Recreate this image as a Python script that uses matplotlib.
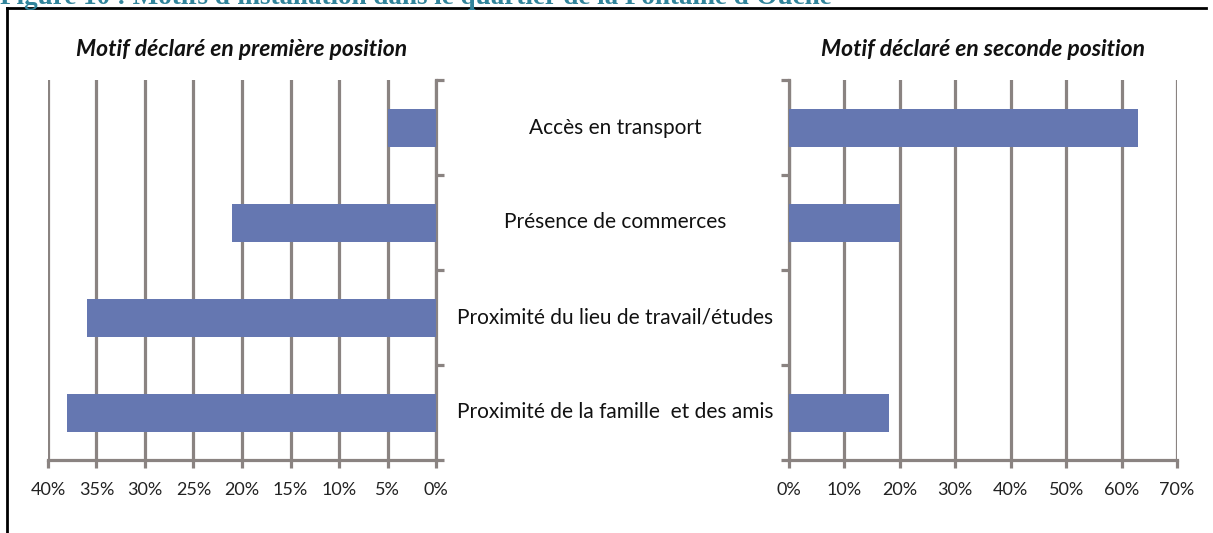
import matplotlib.pyplot as plt
from matplotlib.lines import Line2D

categories = [
    'Accès en transport',
    'Présence de commerces',
    'Proximité du lieu de travail/études',
    'Proximité de la famille  et des amis',
]
premiere = [5, 21, 36, 38]
seconde = [63, 20, 0, 18]

left_ticks = [40, 35, 30, 25, 20, 15, 10, 5, 0]
right_ticks = [0, 10, 20, 30, 40, 50, 60, 70]

bar_color = '#6577b1'
grid_color = '#8a8381'
W, H = 1213, 533

plt.rcParams['font.family'] = ['Lato', 'DejaVu Sans']


def style_axis(ax, ticks, side):
    ax.set_xticks(ticks)
    ax.set_xticklabels([f'{t}%' for t in ticks], fontsize=13, color='#222222')
    ax.set_ylim(len(categories) - 0.5, -0.5)
    ax.set_yticks([i - 0.5 for i in range(len(categories) + 1)])
    ax.set_yticklabels([])
    ax.xaxis.grid(True, color=grid_color, linewidth=2.3, zorder=0)
    ax.set_axisbelow(True)
    for s in ['top', 'left', 'right']:
        ax.spines[s].set_visible(False)
    ax.spines['bottom'].set_color(grid_color)
    ax.spines['bottom'].set_linewidth(2.3)
    ax.spines[side].set_visible(True)
    ax.spines[side].set_color(grid_color)
    ax.spines[side].set_linewidth(2.3)
    ax.tick_params(axis='x', direction='out', length=6, width=2.3,
                   color=grid_color, pad=10)
    ax.tick_params(axis='y', direction='out', length=6, width=2.3,
                   color=grid_color, left=(side == 'left'), right=(side == 'right'))


fig = plt.figure(figsize=(W / 100, H / 100), dpi=100)

ax1 = fig.add_axes([48 / W, 73 / H, 388 / W, 380 / H])
ax1.barh(range(len(categories)), premiere, height=0.4, color=bar_color, zorder=3)
ax1.set_xlim(40, 0)
style_axis(ax1, left_ticks, 'right')
ax1.set_title('Motif déclaré en première position', fontsize=16.5,
              fontweight='bold', style='italic', pad=17, color='#111111')

ax2 = fig.add_axes([789 / W, 73 / H, 388 / W, 380 / H])
ax2.barh(range(len(categories)), seconde, height=0.4, color=bar_color, zorder=3)
ax2.set_xlim(0, 70)
style_axis(ax2, right_ticks, 'left')
ax2.set_title('Motif déclaré en seconde position', fontsize=16.5,
              fontweight='bold', style='italic', pad=17, color='#111111')

# category labels between the two panels
for i, cat in enumerate(categories):
    y = ax1.transData.transform((0, i))[1]
    fig.text(615 / W, y / H, cat, ha='center', va='center', fontsize=15,
             color='#111111')

# clipped document caption and frame
fig.text(0, (H - 4) / H, "Figure 10 : Motifs d'installation dans le quartier de la Fontaine d'Ouche",
         family='Liberation Serif', fontweight='bold', fontsize=19.5,
         color='#31849b', ha='left', va='baseline')
fig.add_artist(Line2D([7 / W, 7 / W], [0, (H - 8) / H], color='black', linewidth=2))
fig.add_artist(Line2D([7 / W, 1206 / W], [(H - 8) / H, (H - 8) / H], color='black', linewidth=2))

fig.savefig('out.png', dpi=100)
